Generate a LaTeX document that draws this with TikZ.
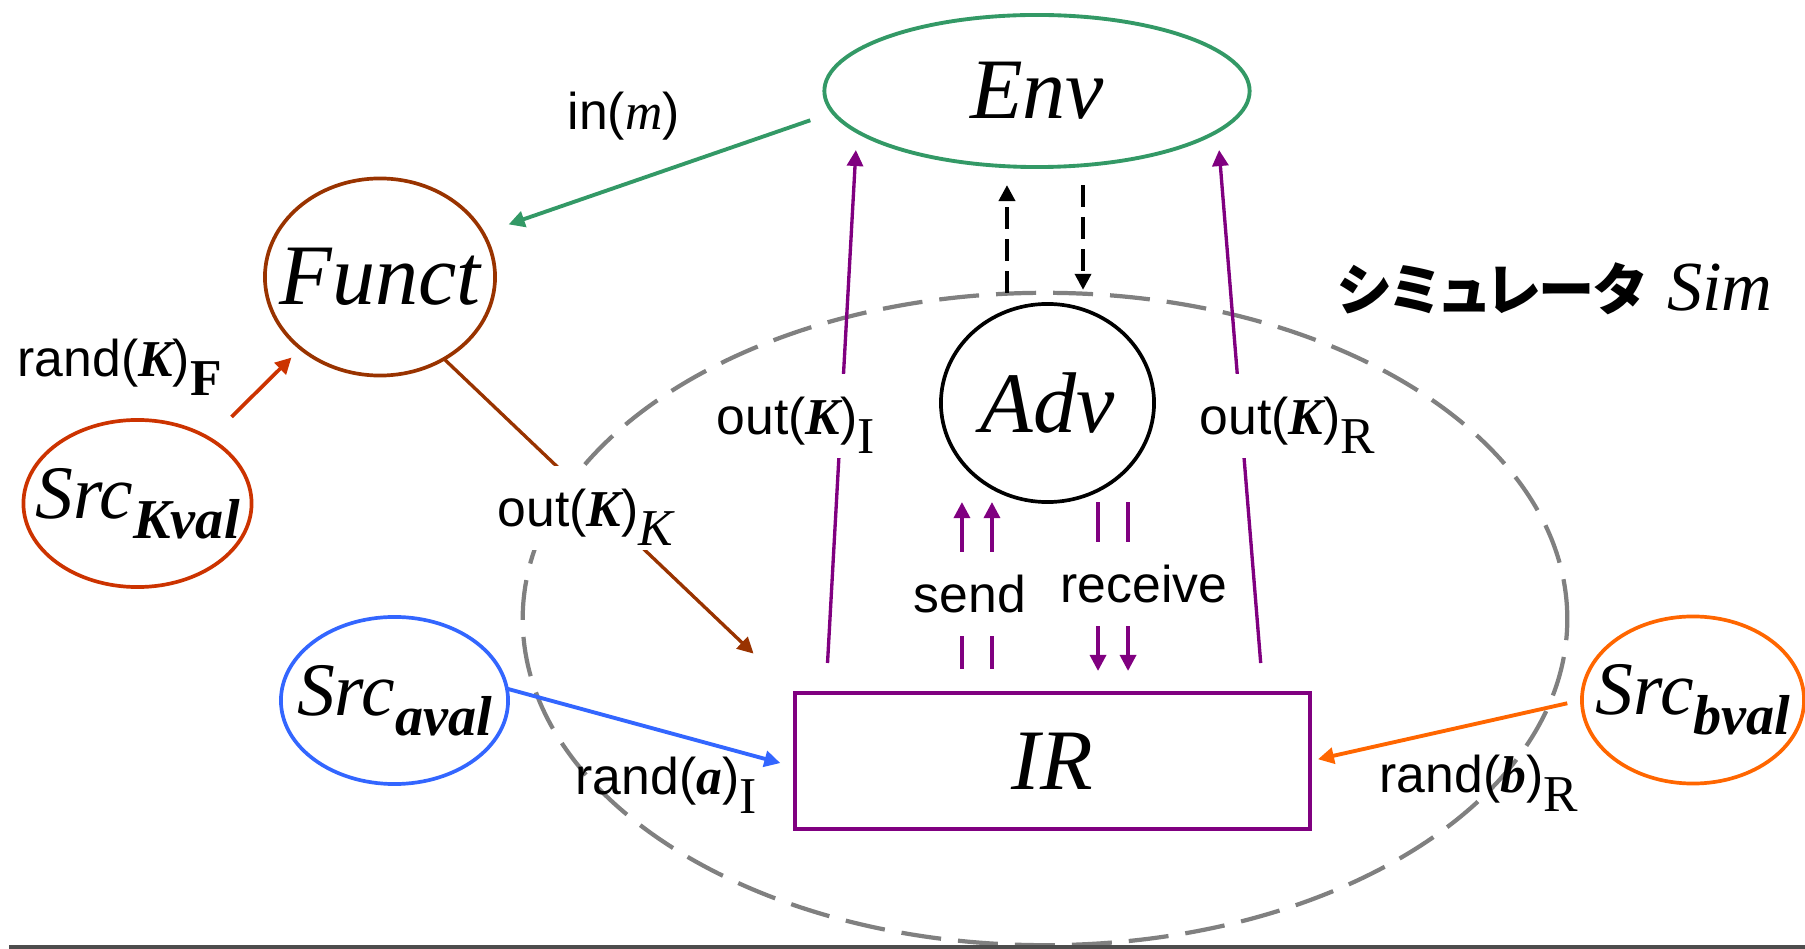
\documentclass[tikz,border=0pt]{standalone}
\usepackage{fontspec}
\setmainfont{Liberation Serif}
\setsansfont{Liberation Sans}
\newfontfamily\jpfont{Noto Sans CJK JP}[RawFeature=+palt]
\usetikzlibrary{shapes.geometric,arrows.meta}
\definecolor{envgreen}{HTML}{339966}
\definecolor{functbrown}{HTML}{993300}
\definecolor{keyred}{HTML}{CC3300}
\definecolor{ablue}{HTML}{3366FF}
\definecolor{borange}{HTML}{FF6600}
\definecolor{irpurple}{HTML}{800080}
\definecolor{simgray}{HTML}{808080}
\definecolor{rulegray}{HTML}{4D4D4D}
\newcommand{\ctext}[1]{\makebox[0pt]{#1}}
\newcommand{\kb}[1]{{\rmfamily\bfseries\itshape #1}}
\newcommand{\lsub}[1]{\raisebox{-0.18cm}{\rmfamily #1}}
\newcommand{\srcsub}[1]{\raisebox{-0.2cm}{\fontsize{16}{18}\selectfont\bfseries #1}}

\begin{document}
\begin{tikzpicture}[x=0.01cm, y=-0.01cm,
				big_oval/.style ={ellipse, line width=1.05pt, inner sep=0pt, outer sep=0pt,
					font=\fontsize{24.5}{28}\selectfont\itshape},
				src_oval/.style ={ellipse, line width=1.05pt, inner sep=0pt, outer sep=0pt,
					minimum width=2.28cm, minimum height=1.67cm,
					font=\fontsize{21.5}{24}\selectfont\itshape},
				label_text/.style ={inner sep=0pt, anchor=base west,
					font=\sffamily\fontsize{14.7}{17}\selectfont},
				gap_text/.style ={label_text, fill=white, text height=0.61cm, text depth=0.23cm},
				line/.style ={draw, line width=0.95pt, -{Triangle[length=0.16cm,width=0.16cm]}}]
	\tikzstyle{dasharrow} = [line, black, line width=1.05pt, dash pattern=on 0.22cm off 0.1cm]
	\useasboundingbox (0,0) rectangle (1805,949);

	% simulator boundary
	\node [ellipse, draw=simgray, line width=1.2pt, dash pattern=on 0.40cm off 0.17cm,
		minimum width=10.44cm, minimum height=6.52cm, inner sep=0pt, outer sep=0pt] (sim) at (1045,619) {};

	% parties
	\node [big_oval, draw=envgreen, line width=1.1pt, minimum width=4.25cm, minimum height=1.52cm] (env) at (1037,91) {\ctext{Env}};
	\node [big_oval, draw=functbrown, minimum width=2.30cm, minimum height=1.97cm] (funct) at (380,277) {\ctext{Funct}};
	\node [big_oval, draw=black, minimum width=2.13cm, minimum height=1.98cm] (adv) at (1047.5,403) {\ctext{Adv}};
	\node [rectangle, draw=irpurple, line width=1pt, minimum width=5.15cm, minimum height=1.36cm,
		inner sep=0pt, outer sep=0pt, font=\fontsize{24.5}{28}\selectfont\itshape] (ir) at (1052.5,761) {IR};

	% randomness sources
	\node [src_oval, draw=keyred] (srckval) at (137.5,503.5) {\ctext{Src\srcsub{Kval}}};
	\node [src_oval, draw=ablue, minimum width=2.27cm] (srcaval) at (394.5,700.5) {\ctext{Src\srcsub{aval}}};
	\node [src_oval, draw=borange, minimum width=2.22cm] (srcbval) at (1693,700) {\ctext{Src\srcsub{bval}}};

	% connecting nodes with paths
	\begin{scope}[every path/.style=line]
		\path [envgreen, line width=1.1pt, shorten <=0.24cm, shorten >=0.27cm] (env.186) -- (funct.23);
		\path [keyred, line width=1.05pt, shorten <=0.31cm, shorten >=0.13cm] (srckval.42.5) -- (funct.222);
		\path [functbrown, shorten >=0.57cm] (funct.308.7) -- (ir.north west);
		\path [ablue, line width=1.1pt, shorten >=0.15cm] (srcaval.6) -- ([yshift=-0.06cm]ir.west);
		\path [borange, line width=1.1pt, shorten <=0.15cm, shorten >=0.08cm] (srcbval.west) -- (ir.east);
		\path [irpurple, shorten <=0.30cm] ([xshift=0.31cm]ir.north west) -- ([xshift=-1.81cm,yshift=0.17cm]env.south);
		\path [irpurple, shorten <=0.30cm] ([xshift=-0.47cm]ir.north east) -- ([xshift=1.82cm,yshift=0.17cm]env.south);
		% send / receive
		\foreach \dx in {-0.905,-0.605}
			\path [irpurple, shorten <=0.24cm] ([xshift=\dx cm]ir.north) -- ([xshift=\dx cm]ir.north |- adv.south);
		\foreach \dx in {0.455,0.755}
			\path [irpurple, shorten >=0.22cm] ([xshift=\dx cm]ir.north |- adv.south) -- ([xshift=\dx cm]ir.north);
	\end{scope}
	% adversary <-> environment
	\draw [dasharrow, shorten >=0.18cm] ([xshift=-0.30cm]env.south |- sim.north) -- ([xshift=-0.30cm]env.south);
	\draw [dasharrow, shorten <=0.18cm, shorten >=0.03cm] ([xshift=0.46cm]env.south) -- ([xshift=0.46cm]env.south |- sim.north);

	% labels
	\node [label_text] (inm) at (567,130) {in({\rmfamily\itshape m})};
	\node [label_text] (randk) at (17,377) {rand(\kb{K})\lsub{\bfseries F}};
	\node [gap_text] (outk) at (497,527) {out(\kb{K})\lsub{\itshape K}};
	\node [gap_text] (outi) at (716,435) {out(\kb{K})\lsub{I}};
	\node [gap_text] (outr) at (1199,435) {out(\kb{K})\lsub{R}};
	\node [gap_text] (sendl) at (913,613) {send};
	\node [gap_text] (recvl) at (1060,603) {receive};
	\node [label_text] (randa) at (575,795) {rand(\kb{a})\lsub{I}};
	\node [label_text] (randb) at (1379,793) {rand(\kb{b})\lsub{R}};
	\node [label_text, font=\rmfamily\fontsize{20}{24}\selectfont] (simname) at (1337,311)
		{{\jpfont\bfseries\fontsize{16}{20}\selectfont シミュレータ}\hspace{0.22cm}\textit{Sim}};

	% bottom rule
	\draw [rulegray, line width=0.045cm] (9,947) -- (1805,947);
\end{tikzpicture}
\end{document}
